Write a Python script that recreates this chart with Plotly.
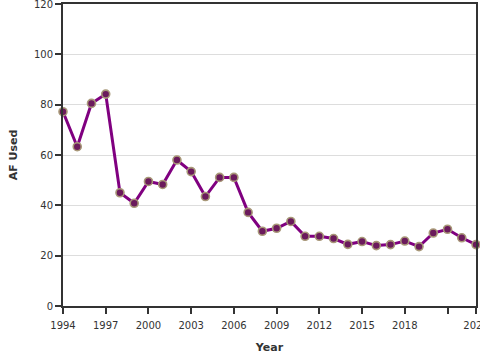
import plotly.graph_objects as go

years = list(range(1994, 2024))
af_used = [77.2, 63.3, 80.5, 84.2, 45.0, 40.8, 49.5, 48.3, 58.0, 53.4,
           43.5, 51.1, 51.1, 37.2, 29.7, 30.9, 33.6, 27.7, 27.7, 26.8,
           24.5, 25.6, 24.0, 24.4, 25.8, 23.6, 29.0, 30.5, 27.1, 24.4]

x_tickvals = [1994, 1997, 2000, 2003, 2006, 2009, 2012, 2015, 2018, 2021, 2023]
x_ticktext = ["1994", "1997", "2000", "2003", "2006", "2009", "2012", "2015", "2018", "", "2023"]
y_tickvals = [0, 20, 40, 60, 80, 100, 120]

fig = go.Figure()
fig.add_trace(go.Scatter(
    x=years, y=af_used, mode="lines+markers",
    line=dict(color="#800080", width=3),
    marker=dict(size=8, color="#6b1a5c", line=dict(color="#a89878", width=1.6)),
    cliponaxis=False,
    showlegend=False,
))

font_family = "DejaVu Sans"
fig.update_layout(
    width=480, height=360,
    margin=dict(l=63, r=4, t=4, b=54),
    paper_bgcolor="white", plot_bgcolor="white",
    font=dict(family=font_family, size=10, color="#333"),
    xaxis=dict(
        range=[1994, 2023], tickvals=x_tickvals, ticktext=x_ticktext,
        ticks="outside", ticklen=6, tickwidth=1.5, tickcolor="#333",
        showline=True, linewidth=2, linecolor="#333", mirror=True,
        showgrid=False, zeroline=False, ticklabeloverflow="allow",
        ticklabelstandoff=3,
        title=dict(text="<b>Year</b>", font=dict(size=11, color="#333"), standoff=13),
        automargin=False,
    ),
    yaxis=dict(
        range=[0, 120], tickvals=y_tickvals,
        ticks="outside", ticklen=6, tickwidth=1.5, tickcolor="#333",
        showline=True, linewidth=2, linecolor="#333", mirror=True,
        showgrid=True, gridcolor="#dddddd", gridwidth=1, zeroline=False,
        ticklabeloverflow="allow",
        title=dict(text="<b>AF Used</b>", font=dict(size=11, color="#333"), standoff=14),
        automargin=False,
    ),
)

fig.write_html("out.html", config={"displayModeBar": False},
               post_script="document.body.style.margin='0';")
